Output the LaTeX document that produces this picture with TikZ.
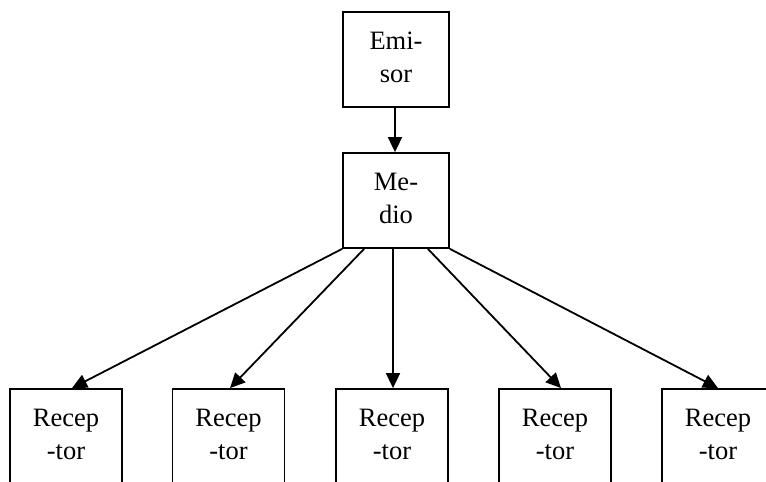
\documentclass[tikz,border=0pt]{standalone}
\usepackage{fontspec}
\setmainfont{Liberation Serif}
\usetikzlibrary{arrows.meta}
\tikzset{
  boxnode/.style={draw=black, line width=1.8pt, rectangle, inner sep=0pt,
    minimum width=106pt, minimum height=95pt, align=center,
    font=\fontsize{26.5}{33}\selectfont},
  recbox/.style={boxnode, minimum width=112pt},
  conn/.style={draw=black, line width=1.8pt, -{Triangle[length=15pt,width=14pt]}}
}
\begin{document}
\begin{tikzpicture}[x=1pt,y=-1pt]
\useasboundingbox (0,0) rectangle (766,482);
\clip (0,0) rectangle (766,482);
\node[boxnode] (emisor) at (396,59.5) {\strut Emi-\\\strut sor};
\node[boxnode] (medio) at (396,200.5) {\strut Me-\\\strut dio};
\node[recbox] (r1) at (66,436.5) {\strut Recep\\\strut -tor};
\node[recbox] (r2) at (228.5,436.5) {\strut Recep\\\strut -tor};
\node[recbox] (r3) at (392,436.5) {\strut Recep\\\strut -tor};
\node[recbox] (r4) at (555,436.5) {\strut Recep\\\strut -tor};
\node[recbox] (r5) at (718,436.5) {\strut Recep\\\strut -tor};
\coordinate (m1) at (medio.south west);
\coordinate (m2) at ([xshift=22pt]medio.south west);
\coordinate (m3) at ([xshift=-3pt]medio.south);
\coordinate (m4) at ([xshift=-22pt]medio.south east);
\coordinate (m5) at (medio.south east);
\draw[conn] (emisor.south -| 395,0) -- (medio.north -| 395,0);
\draw[conn] (m1) -- ([xshift=6pt]r1.north);
\draw[conn] (m2) -- ([xshift=1.5pt]r2.north);
\draw[conn] (m3) -- (m3 |- r3.north);
\draw[conn] (m4) -- ([xshift=6pt]r4.north);
\draw[conn] (m5) -- (r5.north);
\end{tikzpicture}
\end{document}
